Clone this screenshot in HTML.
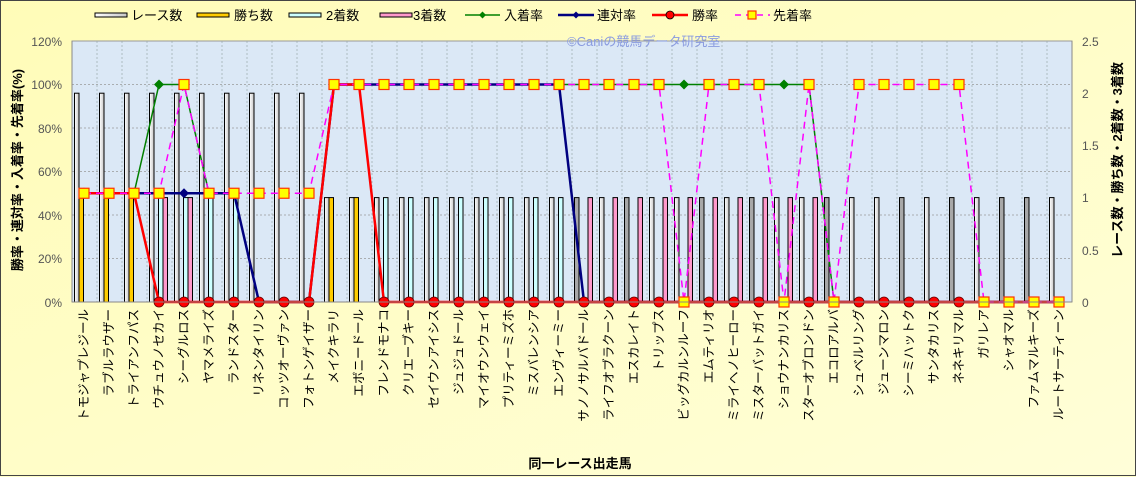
<!DOCTYPE html>
<html><head><meta charset="utf-8"><style>
html,body{margin:0;padding:0;background:#fffec8;}
svg{display:block;font-family:"Liberation Sans","Noto Sans CJK JP",sans-serif;}
</style></head><body>
<svg id="s" width="1136" height="477" xmlns="http://www.w3.org/2000/svg">
<defs>
<linearGradient id="bg" x1="0" y1="0" x2="1" y2="1"><stop offset="0" stop-color="#fffcb8"/><stop offset="1" stop-color="#fffed8"/></linearGradient>
<linearGradient id="rb" x1="0" y1="0" x2="1" y2="0"><stop offset="0" stop-color="#ffffff"/><stop offset="1" stop-color="#c8c8c8"/></linearGradient>
</defs>
<rect x="0.5" y="0.5" width="1135" height="475" fill="url(#bg)" stroke="#444" stroke-width="1"/>
<rect x="72" y="41" width="1000" height="261" fill="#dbe8f6" stroke="#999" stroke-width="1"/>
<g id="grid"></g>
<g id="bars"></g>
<g id="lines"></g>
<line x1="72" y1="302" x2="1072" y2="302" stroke="#888"/>
<line x1="72" y1="41" x2="72" y2="302" stroke="#888"/>
<line x1="1072" y1="41" x2="1072" y2="302" stroke="#888"/>
<text x="567" y="46" font-size="13" fill="#8a9be0">©Caniの競馬データ研究室</text>
<g font-size="12" fill="#555" text-anchor="end">
<text x="62" y="46">120%</text><text x="62" y="89">100%</text><text x="62" y="133">80%</text><text x="62" y="176">60%</text><text x="62" y="220">40%</text><text x="62" y="263">20%</text><text x="62" y="307">0%</text>
</g>
<g font-size="12" fill="#555">
<text x="1082" y="46">2.5</text><text x="1082" y="98">2</text><text x="1082" y="150">1.5</text><text x="1082" y="202">1</text><text x="1082" y="255">0.5</text><text x="1082" y="307">0</text>
</g>
<text transform="translate(22,170) rotate(-90)" font-size="13" font-weight="bold" text-anchor="middle" fill="#000">勝率・連対率・入着率・先着率(%)</text>
<text transform="translate(1122,160) rotate(-90)" font-size="13" font-weight="bold" text-anchor="middle" fill="#000">レース数・勝ち数・2着数・3着数</text>
<text x="580" y="468" font-size="13" font-weight="bold" text-anchor="middle" fill="#000">同一レース出走馬</text>
<g font-size="12.5" fill="#000" text-anchor="end" dominant-baseline="central">
<text transform="translate(84,309) rotate(-90)">トモジャプレジール</text>
<text transform="translate(109,309) rotate(-90)">ラブルラウザー</text>
<text transform="translate(134,309) rotate(-90)">トライアンフパス</text>
<text transform="translate(159,309) rotate(-90)">ウチュウノセカイ</text>
<text transform="translate(184,309) rotate(-90)">シーグルロス</text>
<text transform="translate(209,309) rotate(-90)">ヤマメライズ</text>
<text transform="translate(234,309) rotate(-90)">ランドスター</text>
<text transform="translate(259,309) rotate(-90)">リネンタイリン</text>
<text transform="translate(284,309) rotate(-90)">コッツオーヴァン</text>
<text transform="translate(309,309) rotate(-90)">フォトンゲイザー</text>
<text transform="translate(334,309) rotate(-90)">メイクキラリ</text>
<text transform="translate(359,309) rotate(-90)">エボニードール</text>
<text transform="translate(384,309) rotate(-90)">フレンドモナコ</text>
<text transform="translate(409,309) rotate(-90)">クリエーブキー</text>
<text transform="translate(434,309) rotate(-90)">セイウンアイシス</text>
<text transform="translate(459,309) rotate(-90)">ジュジュドール</text>
<text transform="translate(484,309) rotate(-90)">マイオウンウェイ</text>
<text transform="translate(509,309) rotate(-90)">プリティーミズホ</text>
<text transform="translate(534,309) rotate(-90)">ミスバレンシア</text>
<text transform="translate(559,309) rotate(-90)">エンヴィーミー</text>
<text transform="translate(584,309) rotate(-90)">サノノサルバドール</text>
<text transform="translate(609,309) rotate(-90)">ライフオブラクーン</text>
<text transform="translate(634,309) rotate(-90)">エスカレイト</text>
<text transform="translate(659,309) rotate(-90)">トリップス</text>
<text transform="translate(684,309) rotate(-90)">ビッグカルンルーフ</text>
<text transform="translate(709,309) rotate(-90)">エムティリオ</text>
<text transform="translate(734,309) rotate(-90)">ミライヘノヒーロー</text>
<text transform="translate(759,309) rotate(-90)">ミスターバットガイ</text>
<text transform="translate(784,309) rotate(-90)">ショウナンカリス</text>
<text transform="translate(809,309) rotate(-90)">スターオブロンドン</text>
<text transform="translate(834,309) rotate(-90)">エコロアルバ</text>
<text transform="translate(859,309) rotate(-90)">シュベルリング</text>
<text transform="translate(884,309) rotate(-90)">ジューンマロン</text>
<text transform="translate(909,309) rotate(-90)">シーミハットク</text>
<text transform="translate(934,309) rotate(-90)">サンタカリス</text>
<text transform="translate(959,309) rotate(-90)">ネネキリマル</text>
<text transform="translate(984,309) rotate(-90)">ガリレア</text>
<text transform="translate(1009,309) rotate(-90)">シャオマル</text>
<text transform="translate(1034,309) rotate(-90)">ファムマルキーズ</text>
<text transform="translate(1059,309) rotate(-90)">ルートサーティーン</text>
</g>
<!-- legend -->
<g font-size="13" fill="#000">
<rect x="95" y="13" width="32" height="4" fill="url(#rb)" stroke="#000"/><text x="131" y="20">レース数</text>
<rect x="197" y="13" width="32" height="4" fill="#ffcc00" stroke="#000"/><text x="234" y="20">勝ち数</text>
<rect x="289" y="13" width="32" height="4" fill="#ccffff" stroke="#000"/><text x="326" y="20">2着数</text>
<rect x="380" y="13" width="32" height="4" fill="#ff99cc" stroke="#000"/><text x="413" y="20">3着数</text>
<line x1="465" y1="15" x2="500" y2="15" stroke="#008000" stroke-width="1.5"/><path d="M482.5 11.5 L486 15 L482.5 18.5 L479 15Z" fill="#008000"/><text x="504" y="20">入着率</text>
<line x1="558" y1="15" x2="594" y2="15" stroke="#000080" stroke-width="2.5"/><path d="M576 11.5 L579.5 15 L576 18.5 L572.5 15Z" fill="#000080"/><text x="597" y="20">連対率</text>
<line x1="652" y1="15" x2="688" y2="15" stroke="#ff0000" stroke-width="2.5"/><circle cx="670" cy="15" r="4" fill="#ff0000" stroke="#000" stroke-width="0.8"/><text x="692" y="20">勝率</text>
<line x1="735" y1="15" x2="770" y2="15" stroke="#ff00ff" stroke-width="1.5" stroke-dasharray="6,5"/><rect x="748" y="11" width="8" height="8" fill="#ffff00" stroke="#ff3300" stroke-width="1.2"/><text x="773" y="20">先着率</text>
</g>
<script>
(function(){
var NS="http://www.w3.org/2000/svg";
function el(p,t,a){var e=document.createElementNS(NS,t);for(var k in a)e.setAttribute(k,a[k]);p.appendChild(e);return e;}
var g=document.getElementById('grid'),b=document.getElementById('bars'),L=document.getElementById('lines');
for(var i=1;i<40;i++){var x=72+25*i;el(g,'line',{x1:x,y1:41,x2:x,y2:302,stroke:'#9aa',"stroke-width":0.7,"stroke-dasharray":"2,2"});}
[20,40,60,80,100].forEach(function(p){var y=302-p/120*261;el(g,'line',{x1:72,y1:y,x2:1072,y2:y,stroke:'#999',"stroke-width":0.8,"stroke-dasharray":"2,2"});});
function cy(n){return 302-n/2.5*261;}
function py(p){return 302-p/120*261;}
var race=[],win=[],sec=[],thi=[];
for(var i=0;i<40;i++){race.push(i<10?2:1);win.push(0);sec.push(0);thi.push(0);}
[0,1,2,10,11].forEach(function(i){win[i]=1;});
[3,4,5,6,12,13,14,15,16,17,18,19].forEach(function(i){sec[i]=1;});
[3,4,20,21,22,23,24,25,26,27,28,29].forEach(function(i){thi[i]=1;});
var gray={20:1,22:1,25:1,27:1,30:1,33:1,35:1,37:1,38:1};
for(var i=0;i<40;i++){var c=84+25*i;
 function bar(v,x,f){if(v>0)el(b,'rect',{x:x,y:cy(v),width:4.5,height:302-cy(v),fill:f,stroke:'#000',"stroke-width":1});}
 bar(race[i],c-9.5,gray[i]?'#a8a8a8':'url(#rb)');
 bar(win[i],c-5,'#ffcc00');
 bar(sec[i],c-0.5,'#ccffff');
 bar(thi[i],c+4,'#ff99cc');
}
var A=[],i;
var w=[50,50,50],r=[50,50,50,50,50,50,50,0,0,0],n=[50,50,50,100,100,50,50,0,0,0],s=[50,50,50,50,100,50,50,50,50,50];
for(i=3;i<40;i++)w.push(i==10||i==11?100:0);
for(i=10;i<40;i++)r.push(i<=19?100:0);
for(i=10;i<40;i++)n.push(i<=29?100:0);
for(i=10;i<40;i++)s.push((i==24||i==28||i==30||i>=36)?0:100);
function pts(a){return a.map(function(v,i){return (84+25*i)+','+py(v);}).join(' ');}
el(L,'polyline',{points:pts(n),fill:'none',stroke:'#008000',"stroke-width":1.5});
el(L,'polyline',{points:pts(r),fill:'none',stroke:'#000080',"stroke-width":2.5});
[3,24,28].forEach(function(i){var x=84+25*i,y=py(n[i]);el(L,'path',{d:'M'+x+' '+(y-5)+'L'+(x+5)+' '+y+'L'+x+' '+(y+5)+'L'+(x-5)+' '+y+'Z',fill:'#008000'});});
[4,5].forEach(function(i){var x=84+25*i,y=py(r[i]);el(L,'path',{d:'M'+x+' '+(y-5)+'L'+(x+5)+' '+y+'L'+x+' '+(y+5)+'L'+(x-5)+' '+y+'Z',fill:'#000080'});});
el(L,'polyline',{points:pts(w),fill:'none',stroke:'#ff0000',"stroke-width":2.5});
w.forEach(function(v,i){el(L,'circle',{cx:84+25*i,cy:py(v),r:5,fill:'#ff0000',stroke:'#600',"stroke-width":0.8});});
el(L,'polyline',{points:pts(s),fill:'none',stroke:'#ff00ff',"stroke-width":1.5,"stroke-dasharray":"7,5"});
s.forEach(function(v,i){el(L,'rect',{x:84+25*i-5,y:py(v)-5,width:10,height:10,fill:'#ffff00',stroke:'#ff3300',"stroke-width":1.2});});
})();
</script>
</svg>
</body></html>
